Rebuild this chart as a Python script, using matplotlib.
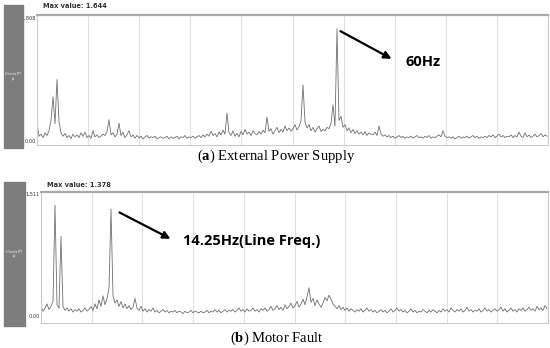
import numpy as np
import matplotlib
matplotlib.use("Agg")
import matplotlib.pyplot as plt
from matplotlib.patches import Rectangle

# ── Data ─────────────────────────────────────────────────────────────────────

SUPPLY_AMP = [
    0.26, 0.07, 0.10, 0.05, 0.12, 0.08, 0.15, 0.30, 0.65, 0.25, 0.90, 0.28, 0.12, 0.07, 0.11, 0.05,
    0.08, 0.04, 0.10, 0.06, 0.09, 0.05, 0.12, 0.07, 0.13, 0.05, 0.08, 0.04, 0.15, 0.06, 0.09, 0.05,
    0.07, 0.10, 0.08, 0.14, 0.31, 0.09, 0.12, 0.06, 0.10, 0.26, 0.08, 0.13, 0.05, 0.09, 0.15, 0.06,
    0.09, 0.04, 0.08, 0.05, 0.07, 0.03, 0.06, 0.08, 0.04, 0.06, 0.05, 0.07, 0.03, 0.05, 0.06, 0.04,
    0.05, 0.07, 0.03, 0.06, 0.04, 0.05, 0.07, 0.03, 0.06, 0.05, 0.08, 0.04, 0.06, 0.05, 0.07, 0.04,
    0.06, 0.08, 0.05, 0.09, 0.06, 0.10, 0.07, 0.14, 0.08, 0.11, 0.06, 0.13, 0.09, 0.16, 0.10, 0.41,
    0.12, 0.08, 0.15, 0.07, 0.11, 0.06, 0.14, 0.09, 0.17, 0.10, 0.13, 0.08, 0.15, 0.11, 0.09, 0.14,
    0.10, 0.16, 0.12, 0.35, 0.14, 0.18, 0.10, 0.15, 0.20, 0.12, 0.17, 0.13, 0.22, 0.15, 0.19, 0.14,
    0.18, 0.24, 0.16, 0.21, 0.30, 0.82, 0.28, 0.19, 0.24, 0.15, 0.20, 0.13, 0.18, 0.22, 0.14, 0.17,
    0.15, 0.20, 0.18, 0.26, 0.53, 0.22, 1.644, 0.30, 0.36, 0.20, 0.24, 0.15, 0.19, 0.12, 0.17, 0.11,
    0.15, 0.10, 0.13, 0.09, 0.14, 0.08, 0.12, 0.10, 0.09, 0.13, 0.08, 0.22, 0.10, 0.07, 0.09, 0.06,
    0.08, 0.05, 0.07, 0.04, 0.06, 0.08, 0.05, 0.07, 0.04, 0.06, 0.05, 0.07, 0.04, 0.06, 0.08, 0.05,
    0.06, 0.04, 0.07, 0.05, 0.08, 0.04, 0.06, 0.05, 0.07, 0.09, 0.06, 0.15, 0.07, 0.05, 0.06, 0.04,
    0.06, 0.03, 0.05, 0.07, 0.04, 0.06, 0.05, 0.07, 0.04, 0.06, 0.08, 0.05, 0.07, 0.04, 0.06, 0.05,
    0.07, 0.05, 0.08, 0.06, 0.09, 0.05, 0.07, 0.10, 0.06, 0.08, 0.05, 0.07, 0.06, 0.09, 0.05, 0.08,
    0.06, 0.13, 0.07, 0.05, 0.12, 0.06, 0.09, 0.05, 0.07, 0.10, 0.06, 0.08, 0.11, 0.06, 0.09, 0.07,
]

FAULT_AMP = [
    0.12, 0.06, 0.10, 0.15, 0.08, 0.12, 0.18, 1.378, 0.14, 0.10, 0.99, 0.12, 0.07, 0.10, 0.06, 0.09,
    0.05, 0.08, 0.06, 0.09, 0.05, 0.07, 0.10, 0.06, 0.08, 0.12, 0.07, 0.15, 0.09, 0.20, 0.12, 0.25,
    0.14, 0.22, 0.35, 1.33, 0.25, 0.16, 0.20, 0.12, 0.18, 0.10, 0.15, 0.09, 0.13, 0.08, 0.11, 0.22,
    0.10, 0.07, 0.12, 0.06, 0.09, 0.05, 0.08, 0.06, 0.10, 0.05, 0.07, 0.04, 0.06, 0.08, 0.05, 0.07,
    0.04, 0.06, 0.05, 0.07, 0.04, 0.06, 0.05, 0.03, 0.06, 0.04, 0.05, 0.07, 0.04, 0.06, 0.05, 0.04,
    0.06, 0.04, 0.05, 0.07, 0.04, 0.06, 0.05, 0.08, 0.05, 0.07, 0.04, 0.06, 0.08, 0.05, 0.07, 0.06,
    0.08, 0.05, 0.07, 0.10, 0.06, 0.08, 0.05, 0.09, 0.06, 0.07, 0.10, 0.06, 0.08, 0.05, 0.09, 0.07,
    0.10, 0.06, 0.08, 0.12, 0.07, 0.09, 0.13, 0.08, 0.11, 0.07, 0.14, 0.09, 0.12, 0.16, 0.10, 0.13,
    0.18, 0.11, 0.15, 0.21, 0.14, 0.24, 0.35, 0.17, 0.22, 0.13, 0.20, 0.15, 0.11, 0.16, 0.23, 0.19,
    0.26, 0.21, 0.15, 0.12, 0.09, 0.13, 0.08, 0.11, 0.07, 0.10, 0.06, 0.09, 0.07, 0.05, 0.08, 0.06,
    0.09, 0.05, 0.07, 0.10, 0.06, 0.08, 0.05, 0.07, 0.04, 0.06, 0.08, 0.05, 0.07, 0.04, 0.06, 0.09,
    0.05, 0.07, 0.10, 0.06, 0.08, 0.05, 0.07, 0.04, 0.06, 0.09, 0.05, 0.07, 0.04, 0.06, 0.05, 0.08,
    0.06, 0.04, 0.07, 0.05, 0.08, 0.06, 0.04, 0.07, 0.05, 0.09, 0.06, 0.08, 0.05, 0.10, 0.07, 0.05,
    0.08, 0.06, 0.09, 0.05, 0.07, 0.11, 0.06, 0.08, 0.05, 0.07, 0.06, 0.09, 0.05, 0.07, 0.10, 0.06,
    0.08, 0.05, 0.07, 0.09, 0.06, 0.08, 0.11, 0.06, 0.09, 0.05, 0.07, 0.10, 0.06, 0.08, 0.05, 0.09,
    0.07, 0.10, 0.06, 0.08, 0.11, 0.07, 0.09, 0.06, 0.12, 0.08, 0.10, 0.07, 0.13, 0.09,
]

SCALE_TOP = [1.808, 1.511]
MAX_VALUES = ["Max value: 1.644", "Max value: 1.378"]
PEAK_LABELS = ["60Hz", "14.25Hz(Line Freq.)"]
CAPTIONS = [r"($\mathbf{a}$) External Power Supply", r"($\mathbf{b}$) Motor Fault"]

W, H = 550, 348

plt.rcParams["mathtext.fontset"] = "custom"
plt.rcParams["mathtext.rm"] = "Liberation Serif"
plt.rcParams["mathtext.bf"] = "Liberation Serif:bold"

fig = plt.figure(figsize=(W / 100, H / 100), dpi=100)
fig.patch.set_facecolor("white")


def px_box(left, top, right, bottom):
    """Pixel box (from top-left) -> figure fraction rect."""
    return [left / W, 1 - bottom / H, (right - left) / W, (bottom - top) / H]


def panel(box, amp, top_val, pad_lo, pad_hi, max_txt, max_y, bar):
    ax = fig.add_axes(px_box(*box))
    n = len(amp)
    ax.plot(np.arange(n), amp, color="#707070", lw=0.6)
    ax.set_xlim(0, n - 0.5)
    unit = top_val / pad_hi
    ax.set_ylim(-pad_lo * unit, top_val + 2.5 * unit)
    ax.set_xticks(np.linspace(0, n - 0.5, 11))
    ax.set_xticklabels([])
    ax.grid(axis="x", color="#e2e2e2", lw=0.8)
    ax.set_yticks([0, top_val])
    ax.set_yticklabels(["0.00", f"{top_val}"], fontsize=3.6, color="#333333")
    ax.tick_params(length=0, pad=1)
    for s in ax.spines.values():
        s.set_color("#cccccc")
        s.set_linewidth(0.8)
    ax.spines["top"].set_color("#a9a9a9")
    ax.spines["top"].set_linewidth(1.6)
    fig.text((box[0] + 6) / W, 1 - max_y / H, max_txt, fontsize=4.8,
             fontweight="bold", color="#333333", va="center", ha="left")
    # grey scale bar on the left
    bl, bt, br, bb = bar
    fig.patches.append(Rectangle((bl / W, 1 - bb / H), (br - bl) / W, (bb - bt) / H,
                                 transform=fig.transFigure, color="#7d7d7d", zorder=0))
    fig.text((bl + br) / 2 / W, 1 - (bt + bb) / 2 / H, "2.5mm/s FFT\npk",
             fontsize=1.8, color="white", ha="center", va="center")
    return ax


ax1 = panel((37, 15, 548, 145), SUPPLY_AMP, SCALE_TOP[0], 4, 123,
            MAX_VALUES[0], 6, (4, 5, 23, 148))
ax2 = panel((41, 192, 548, 323), FAULT_AMP, SCALE_TOP[1], 7, 122,
            MAX_VALUES[1], 185, (4, 182, 25, 326))

# annotations
i1 = int(np.argmax(SUPPLY_AMP))
ax1.annotate("", xy=(i1 + 28.5, SUPPLY_AMP[i1] * 0.72), xytext=(i1 + 0.5, SUPPLY_AMP[i1] * 0.99),
             arrowprops=dict(arrowstyle="-|>", color="black", lw=1.6, mutation_scale=11))
ax1.text(i1 + 34, SUPPLY_AMP[i1] * 0.70, PEAK_LABELS[0], fontsize=10.5, fontweight="bold",
         family="Open Sans", va="center", ha="left")

i2 = 35
ax2.annotate("", xy=(i2 + 31, FAULT_AMP[i2] * 0.71), xytext=(i2 + 3, FAULT_AMP[i2] * 0.98),
             arrowprops=dict(arrowstyle="-|>", color="black", lw=1.6, mutation_scale=11))
ax2.text(i2 + 36, FAULT_AMP[i2] * 0.70, PEAK_LABELS[1], fontsize=10.5, fontweight="bold",
         family="Open Sans", va="center", ha="left")

# captions
fig.text(276 / W, 1 - 156 / H, CAPTIONS[0], fontsize=10.5, family="Liberation Serif",
         ha="center", va="center")
fig.text(277 / W, 1 - 338 / H, CAPTIONS[1], fontsize=10.5, family="Liberation Serif",
         ha="center", va="center")

fig.savefig("out.png", dpi=100, facecolor="white")
